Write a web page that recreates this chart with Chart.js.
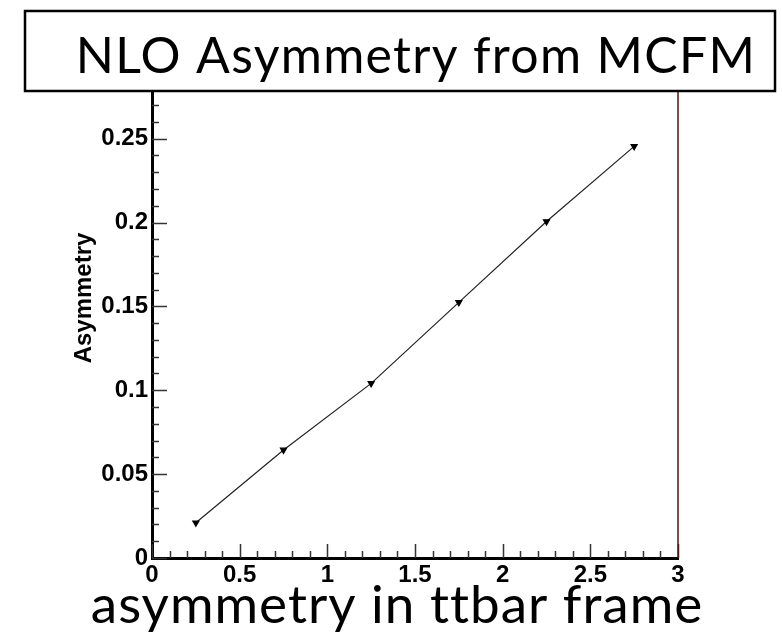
<!DOCTYPE html>
<html lang="en">
<head>
  <meta charset="UTF-8">
  <title>NLO Asymmetry from MCFM</title>
  <script src="https://cdn.jsdelivr.net/npm/chart.js@4.4.0/dist/chart.umd.min.js"></script>
  <style>
    body { margin: 0; background: #fff; }
  </style>
</head>
<body>
  <canvas id="chart" width="782" height="638"></canvas>

  <script>
    // values
    const binCenters = [0.25, 0.75, 1.25, 1.75, 2.25, 2.75];
    const asymmetry = [0.021, 0.0644, 0.1041, 0.1524, 0.2006, 0.2454];
    const chartTitle = 'NLO Asymmetry from MCFM';
    const xTitle = 'asymmetry in ttbar frame';
    const yTitle = 'Asymmetry';

    const tickFont = { family: 'Liberation Sans, Arial, sans-serif', size: 24, weight: 'bold' };
    // ROOT prints 0.2 / 1 / 3, not 0.20 / 1.0 / 3.0
    const rootLabel = v => String(parseFloat(Number(v).toFixed(4)));

    // ROOT-style ticks (pointing into the frame), right frame line, titles
    const rootFrame = {
      id: 'rootFrame',
      afterDraw(chart) {
        const ctx = chart.ctx;
        const area = chart.chartArea;
        const xs = chart.scales.x;
        const ys = chart.scales.y;
        ctx.save();
        ctx.strokeStyle = '#333';
        ctx.lineWidth = 1.5;
        for (let i = 0; i <= 31; i++) {
          const py = Math.round(ys.getPixelForValue(i / 100)) + 0.5;
          const len = i % 5 === 0 ? 15 : 7;
          ctx.beginPath();
          ctx.moveTo(area.left, py);
          ctx.lineTo(area.left + len, py);
          ctx.stroke();
        }
        for (let i = 0; i <= 30; i++) {
          const px = Math.round(xs.getPixelForValue(i / 10)) + 0.5;
          const len = i % 5 === 0 ? 14 : 7;
          ctx.beginPath();
          ctx.moveTo(px, area.bottom);
          ctx.lineTo(px, area.bottom - len);
          ctx.stroke();
        }
        // right frame line
        ctx.strokeStyle = '#5a1010';
        ctx.lineWidth = 1.5;
        ctx.beginPath();
        ctx.moveTo(area.right, area.top);
        ctx.lineTo(area.right, area.bottom);
        ctx.stroke();

        ctx.fillStyle = '#000';
        ctx.textAlign = 'center';
        ctx.textBaseline = 'alphabetic';
        ctx.textRendering = 'optimizeSpeed';   // no "tt" ligature
        ctx.letterSpacing = '1px';
        ctx.font = '53px Lato, sans-serif';
        ctx.fillText(xTitle, 397, 623);

        // title box
        ctx.fillStyle = '#fff';
        ctx.fillRect(25, 11, 750, 80);
        ctx.strokeStyle = '#000';
        ctx.lineWidth = 2.5;
        ctx.strokeRect(25, 11, 750, 80);
        ctx.fillStyle = '#000';
        ctx.letterSpacing = '1.3px';
        ctx.font = '50px Lato, sans-serif';
        ctx.fillText(chartTitle, 416, 73);
        ctx.restore();
      }
    };

    new Chart(document.getElementById('chart'), {
      type: 'line',
      data: {
        datasets: [{
          data: binCenters.map((x, i) => ({ x: x, y: asymmetry[i] })),
          borderColor: '#222',
          borderWidth: 1.2,
          pointStyle: 'triangle',
          rotation: 180,
          pointRadius: 3.5,
          pointBackgroundColor: '#000',
          pointBorderColor: '#000',
          tension: 0
        }]
      },
      options: {
        responsive: false,
        animation: false,
        layout: { padding: { top: 38, right: 104, left: 0, bottom: 0 } },
        plugins: {
          legend: { display: false },
          tooltip: { enabled: false }
        },
        scales: {
          x: {
            type: 'linear',
            min: 0,
            max: 3,
            ticks: { stepSize: 0.5, font: tickFont, color: '#000', padding: 3, maxRotation: 0, callback: rootLabel },
            grid: { drawOnChartArea: false, drawTicks: false },
            border: { color: '#000', width: 3 },
            afterFit(scale) { scale.height = 80; }
          },
          y: {
            type: 'linear',
            min: 0,
            max: 0.31,
            ticks: { stepSize: 0.05, font: tickFont, color: '#000', padding: 4, callback: rootLabel },
            grid: { drawOnChartArea: false, drawTicks: false },
            border: { color: '#000', width: 3 },
            title: {
              display: true,
              text: yTitle,
              color: '#000',
              font: { family: 'Liberation Sans, Arial, sans-serif', size: 24, weight: 'bold' },
              padding: { top: 70, bottom: 0 }
            },
            afterFit(scale) { scale.width = 152; }
          }
        }
      },
      plugins: [rootFrame]
    });
  </script>
</body>
</html>
